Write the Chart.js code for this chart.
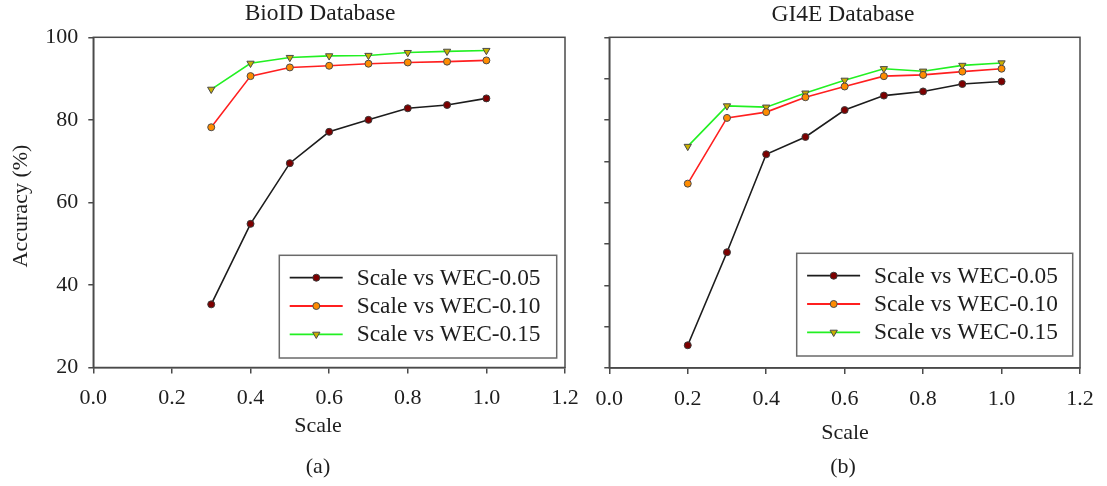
<!DOCTYPE html>
<html>
<head>
<meta charset="utf-8">
<script src="https://cdn.jsdelivr.net/npm/chart.js@4/dist/chart.umd.min.js"></script>
<style>
  html, body { margin: 0; padding: 0; background: #fff; }
  #wrap { position: relative; width: 1107px; height: 486px; overflow: hidden; }
  canvas { position: absolute; top: 0; }
  #chartA { left: 0; }
  #chartB { left: 580px; }
</style>
</head>
<body>
<div id="wrap">
  <canvas id="chartA" width="595" height="486" style="width:595px;height:486px"></canvas>
  <canvas id="chartB" width="527" height="486" style="width:527px;height:486px"></canvas>
</div>
<script>
// ---- data ----
const bioScales = [0.3, 0.4, 0.5, 0.6, 0.7, 0.8, 0.9, 1.0];
const bioWec005 = [35.3, 54.8, 69.5, 77.1, 80.0, 82.8, 83.6, 85.2];
const bioWec010 = [78.2, 90.6, 92.7, 93.1, 93.6, 93.9, 94.1, 94.4];
const bioWec015 = [87.4, 93.7, 95.1, 95.5, 95.6, 96.3, 96.6, 96.8];

const gi4eScales = [0.2, 0.3, 0.4, 0.5, 0.6, 0.7, 0.8, 0.9, 1.0];
const gi4eWec005 = [25.5, 48.0, 71.7, 75.9, 82.4, 85.9, 86.9, 88.7, 89.3];
const gi4eWec010 = [64.6, 80.5, 81.9, 85.5, 88.1, 90.6, 90.9, 91.7, 92.4];
const gi4eWec015 = [73.6, 83.4, 83.1, 86.5, 89.6, 92.4, 91.8, 93.2, 93.8];

const seriesLabels = ['Scale vs WEC-0.05', 'Scale vs WEC-0.10', 'Scale vs WEC-0.15'];
const xTickValues = [0, 0.2, 0.4, 0.6, 0.8, 1.0, 1.2];

// ---- styling ----
const SERIF = '"Liberation Serif", "Times New Roman", serif';
const INK = '#1e1e1e';
const AXIS = '#4a4a4a';

const seriesStyles = [
  { line: '#1c1c1c', fill: '#7d0000', edge: '#3a3a3a', shape: 'circle',   radius: 3.5, rot: 0 },
  { line: '#ff1f1f', fill: '#ff8c00', edge: '#4a4a4a', shape: 'circle',   radius: 3.5, rot: 0 },
  { line: '#22f022', fill: '#c9b000', edge: '#4a4a4a', shape: 'triangle', radius: 4.2, rot: 180 }
];

function pairs(xs, ys) { return xs.map((x, i) => ({ x: x, y: ys[i] })); }

function makeDatasets(xs, seriesList) {
  return seriesList.map((ys, i) => {
    const s = seriesStyles[i];
    return {
      label: seriesLabels[i],
      data: pairs(xs, ys),
      borderColor: s.line,
      borderWidth: 1.6,
      tension: 0,
      pointStyle: s.shape,
      pointRotation: s.rot,
      pointRadius: s.radius,
      pointBackgroundColor: s.fill,
      pointBorderColor: s.edge,
      pointBorderWidth: 1,
      clip: false
    };
  });
}

// Frame, titles, caption and boxed legend for one panel
const panelDeco = {
  id: 'panelDeco',
  beforeDatasetsDraw(chart, args, o) {
    const ctx = chart.ctx, a = chart.chartArea;
    ctx.save();
    ctx.strokeStyle = AXIS;
    ctx.lineWidth = 1.5;
    ctx.strokeRect(a.left, a.top, a.right - a.left, a.bottom - a.top);
    ctx.restore();
  },
  afterDraw(chart, args, o) {
    const ctx = chart.ctx;
    ctx.save();
    ctx.fillStyle = INK;
    ctx.textAlign = 'center';
    ctx.textBaseline = 'middle';
    ctx.font = '23.5px ' + SERIF;
    ctx.fillText(o.title, o.titleX, o.titleY);
    ctx.font = '22px ' + SERIF;
    ctx.fillText('Scale', o.xTitleX, o.xTitleY);
    ctx.fillText(o.caption, o.captionX, o.captionY);
    if (o.yTitle) {
      ctx.save();
      ctx.translate(o.yTitleX, o.yTitleY);
      ctx.rotate(-Math.PI / 2);
      ctx.fillText(o.yTitle, 0, 0);
      ctx.restore();
    }

    // legend box
    const b = o.legend;
    ctx.fillStyle = '#fff';
    ctx.fillRect(b.x, b.y, b.w, b.h);
    ctx.strokeStyle = '#6a6a6a';
    ctx.lineWidth = 1.5;
    ctx.strokeRect(b.x, b.y, b.w, b.h);
    const rows = [22.4, 50.7, 79.0];
    chart.data.datasets.forEach((ds, i) => {
      const s = seriesStyles[i];
      const y = b.y + rows[i];
      ctx.strokeStyle = s.line;
      ctx.lineWidth = 1.8;
      ctx.beginPath();
      ctx.moveTo(b.x + 10.4, y);
      ctx.lineTo(b.x + 63.4, y);
      ctx.stroke();
      const cx = b.x + 37;
      ctx.fillStyle = s.fill;
      ctx.strokeStyle = s.edge;
      ctx.lineWidth = 1;
      ctx.beginPath();
      if (s.shape === 'circle') {
        ctx.arc(cx, y, s.radius, 0, Math.PI * 2);
      } else {
        const r = s.radius;
        ctx.moveTo(cx - r * 0.866, y - r * 0.5);
        ctx.lineTo(cx + r * 0.866, y - r * 0.5);
        ctx.lineTo(cx, y + r);
        ctx.closePath();
      }
      ctx.fill();
      ctx.stroke();
      ctx.fillStyle = INK;
      ctx.textAlign = 'left';
      ctx.font = '23.4px ' + SERIF;
      ctx.fillText(ds.label, b.x + 77.4, y + 1);
    });
    ctx.restore();
  }
};

function xScale(height) {
  return {
    type: 'linear', min: 0, max: 1.2,
    afterFit(s) { s.height = height; },
    afterBuildTicks(s) { s.ticks = xTickValues.map(v => ({ value: v })); },
    ticks: {
      callback: v => Number(v).toFixed(1),
      font: { family: SERIF, size: 22 }, color: INK,
      padding: 12, maxRotation: 0, autoSkip: false
    },
    grid: { drawOnChartArea: false, drawTicks: true, tickLength: 6, color: AXIS, lineWidth: 1.5 },
    border: { display: true, color: AXIS, width: 1.5 }
  };
}

function yScale(width, step, showLabels) {
  return {
    type: 'linear', min: 20, max: 100,
    afterFit(s) { s.width = width; },
    ticks: {
      stepSize: step, display: showLabels,
      font: { family: SERIF, size: 22 }, color: INK, padding: 10
    },
    grid: { drawOnChartArea: false, drawTicks: true, tickLength: 5, color: AXIS, lineWidth: 1.5 },
    border: { display: true, color: AXIS, width: 1.5 }
  };
}

function buildChart(id, xs, seriesList, layout, deco) {
  return new Chart(document.getElementById(id), {
    type: 'line',
    data: { datasets: makeDatasets(xs, seriesList) },
    options: {
      responsive: false,
      animation: false,
      devicePixelRatio: 1,
      layout: { padding: layout.padding },
      plugins: { legend: { display: false }, tooltip: { enabled: false }, panelDeco: deco },
      scales: { x: xScale(layout.xHeight), y: yScale(layout.yWidth, layout.yStep, layout.yLabels) }
    },
    plugins: [panelDeco]
  });
}

buildChart('chartA', bioScales, [bioWec005, bioWec010, bioWec015],
  { padding: { left: 0, top: 37.3, right: 30, bottom: 0 }, xHeight: 118.5, yWidth: 93.3, yStep: 20, yLabels: true },
  {
    title: 'BioID Database', titleX: 320, titleY: 14,
    xTitleX: 318, xTitleY: 426,
    caption: '(a)', captionX: 318, captionY: 467,
    yTitle: 'Accuracy (%)', yTitleX: 21, yTitleY: 206,
    legend: { x: 279.3, y: 255.3, w: 277.4, h: 102.7 }
  });

buildChart('chartB', gi4eScales, [gi4eWec005, gi4eWec010, gi4eWec015],
  { padding: { left: 0, top: 37.3, right: 27, bottom: 0 }, xHeight: 118, yWidth: 29.3, yStep: 10, yLabels: false },
  {
    title: 'GI4E Database', titleX: 263, titleY: 15,
    xTitleX: 265, xTitleY: 433,
    caption: '(b)', captionX: 263, captionY: 467,
    yTitle: null,
    legend: { x: 216.7, y: 253.3, w: 276, h: 102.7 }
  });
</script>
</body>
</html>
